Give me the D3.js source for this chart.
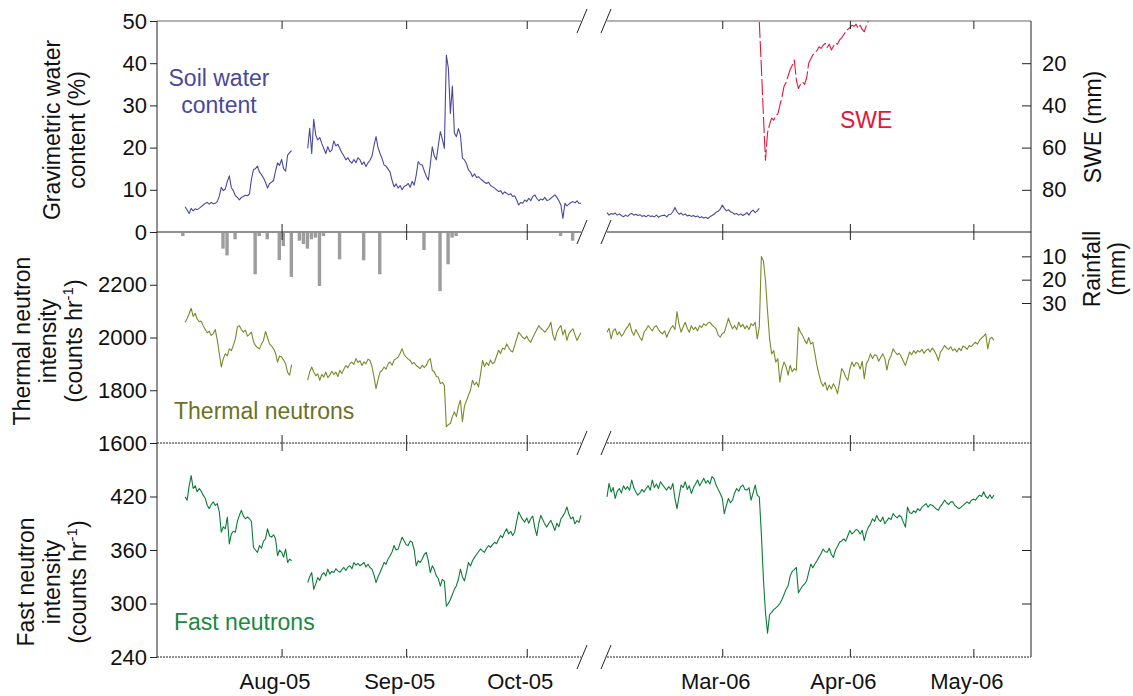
<!DOCTYPE html>
<html>
<head>
<meta charset="utf-8">
<script src="https://cdn.jsdelivr.net/npm/d3@7"></script>
<style>
  body { margin: 0; background: #fff; }
  svg { display: block; font-family: "Liberation Sans", Arial, sans-serif; }
</style>
</head>
<body>
<div id="chart"></div>
<script>
// ---- data (half-daily samples) ----
const sampleHours = 12;

// soil water content (%), summer 2005 (two runs with a gap) and winter 2006
const soilJulStart = "2005-07-08 00";
const soilJul = [6.0,5.2,4.4,5.6,5.0,5.5,5.3,5.6,6.0,6.4,6.8,7.0,6.6,7.0,6.7,6.8,7.2,8.5,10.6,9.8,10.2,12.0,13.3,10.5,9.8,8.6,8.2,7.6,8.2,8.4,8.7,8.6,9.0,12.5,14.8,15.0,15.6,14.2,13.6,12.8,11.8,10.4,11.5,11.8,12.2,14.5,16.4,15.8,17.2,15.0,14.4,18.2,18.8,19.3];
const soilAugStart = "2005-08-07 12";
const soilAug = [19.8,24.6,18.6,26.7,23.0,21.8,22.4,21.0,19.8,18.6,20.2,19.0,19.4,21.6,20.4,20.8,19.8,18.8,18.0,17.1,17.6,16.8,16.3,17.2,16.4,17.6,17.1,16.0,16.6,15.5,16.4,17.0,18.0,20.5,22.6,20.0,18.6,17.4,15.9,15.6,14.9,14.2,12.2,10.7,11.4,10.4,11.0,10.0,10.8,11.0,11.5,10.6,12.0,11.1,13.5,16.7,16.0,15.9,14.5,13.2,12.3,16.0,20.2,18.0,17.1,20.5,23.8,22.0,19.8,41.9,38.8,28.1,34.6,23.4,22.6,24.5,23.0,17.5,17.1,16.2,14.7,14.2,13.1,13.8,12.9,13.1,12.6,12.2,11.8,11.5,11.8,11.0,10.7,10.4,10.0,9.6,9.8,9.0,9.5,9.2,8.8,9.1,8.4,8.6,7.6,6.4,7.0,6.8,7.6,7.2,8.0,7.4,8.4,8.8,8.0,7.4,7.8,7.6,8.2,7.5,7.6,8.0,8.4,8.8,8.2,7.4,6.4,3.2,6.8,6.2,6.6,7.0,7.2,6.9,7.4,6.8,6.8];
const soilFebStart = "2006-02-01 00";
const soilFeb = [4.6,4.0,4.4,4.2,4.5,4.0,4.3,3.9,3.6,4.0,3.7,4.2,4.4,4.0,4.2,3.9,4.1,3.7,3.9,3.6,4.0,3.7,3.8,3.6,4.0,3.5,3.8,3.9,4.0,3.6,4.1,4.2,4.8,5.8,4.8,4.2,4.5,4.0,4.3,3.8,4.0,3.7,3.9,3.6,3.8,3.4,3.6,3.3,3.5,3.2,3.6,3.9,4.2,4.7,4.9,5.4,6.4,5.6,5.0,5.3,4.8,4.6,4.2,4.4,4.0,4.3,3.9,4.2,4.6,4.0,4.8,5.2,4.6,5.0,5.6];

// snow water equivalent (mm), spring 2006
const sweMarStart = "2006-03-10 00";
const sweMar = [0.5,22,45,66,53,49,46,47,45,44,40,36,31,29,26,23,21,18.5,28,32,30,29,30,27,20,18,16,15,14,12.2,13,11.5,10.6,12.5,11,13.7,12,10.5,11,9,8,6.5,5.1,4,3.2,2,2.5,1.5,3.5,2,4,5.1,2,0];

// daily rainfall (mm), 2005
const rainDays = ["2005-07-07","2005-07-17","2005-07-18","2005-07-20","2005-07-25","2005-07-26","2005-07-28","2005-07-31","2005-08-01","2005-08-03","2005-08-05","2005-08-06","2005-08-07","2005-08-08","2005-08-09","2005-08-10","2005-08-11","2005-08-15","2005-08-21","2005-08-25","2005-09-05","2005-09-09","2005-09-11","2005-09-12","2005-09-13","2005-10-09","2005-10-12"];
const rainMm = [1.3,6.7,9.6,2.7,17.7,1.3,2.7,11.6,5.6,18.8,3.3,4.7,6.7,2.7,2.0,22.7,1.3,11.3,11.7,17.7,7.3,24.9,13.4,2.0,1.3,1.3,3.3];

// thermal neutron intensity (counts/hr)
const thermalJulStart = "2005-07-08 00";
const thermalJul = [2058,2072,2090,2111,2080,2092,2070,2060,2062,2044,2030,2018,2024,2008,2015,2030,1990,1940,1888,1920,1938,1930,1957,1950,1970,1995,2040,2045,2030,2020,2028,2005,2012,2020,1985,1970,1962,1957,1975,1989,2023,2000,1975,1968,1957,1940,1907,1930,1926,1915,1900,1868,1857,1897];
const thermalAugStart = "2005-08-07 12";
const thermalAug = [1838,1870,1888,1869,1855,1862,1838,1860,1850,1869,1848,1857,1872,1860,1869,1852,1876,1863,1880,1894,1885,1900,1907,1898,1920,1905,1912,1894,1908,1900,1918,1913,1890,1850,1806,1840,1869,1875,1888,1880,1900,1907,1895,1915,1920,1926,1940,1957,1935,1926,1918,1913,1900,1905,1894,1888,1882,1895,1886,1894,1912,1920,1876,1870,1852,1850,1825,1830,1819,1662,1670,1674,1700,1718,1700,1740,1762,1681,1740,1760,1781,1800,1838,1820,1830,1813,1860,1913,1890,1905,1894,1915,1900,1907,1930,1951,1940,1960,1955,1976,1962,1950,1945,1970,1995,2020,2010,2000,1995,2005,1990,1982,2000,2015,2030,2045,2035,2028,2020,2030,2040,2058,2010,1989,2020,2035,2045,2010,2030,1989,2015,2025,2033,2010,1989,2005,2018];
const thermalFebStart = "2006-02-01 00";
const thermalFeb = [2020,2035,1995,2025,2033,2010,2022,2005,2014,2030,2040,2055,2025,2008,2030,2015,2000,1989,2020,2030,2045,2035,2025,2040,2045,2030,2020,2014,2025,2001,2020,2035,2045,2030,2098,2050,2020,2040,2058,2035,2020,2045,2030,2039,2025,2045,2038,2052,2045,2055,2058,2048,2040,2033,2010,2001,2015,2020,2045,2073,2050,2033,2045,2030,2058,2040,2050,2033,2045,2030,2052,2045,2058,1995,2040,2307,2290,2215,2100,1995,1938,1950,1907,1920,1831,1880,1907,1890,1857,1895,1870,1882,1876,2039,2020,2008,1990,1976,2000,1975,1982,1940,1894,1860,1831,1815,1830,1800,1820,1805,1825,1810,1787,1830,1882,1870,1850,1838,1880,1907,1890,1905,1901,1880,1910,1844,1900,1915,1938,1920,1935,1932,1910,1925,1938,1920,1876,1915,1930,1957,1945,1935,1940,1926,1910,1894,1920,1945,1935,1950,1940,1951,1945,1955,1940,1950,1957,1945,1960,1950,1935,1913,1945,1955,1970,1960,1955,1965,1950,1957,1945,1960,1950,1968,1963,1955,1970,1965,1975,1982,1975,1990,1998,2005,2014,1957,1995,2001,1989];

// fast neutron intensity (counts/hr)
const fastJulStart = "2005-07-08 00";
const fastJul = [419.6,415.9,432,443.4,429,432,425.3,429,426,421.5,418,410.2,406.4,411,414,410,412,402.7,380,386,383.8,397,366.8,378,381,380,392,398.9,404.5,398,395,397,395,392,363,360,357.4,365,362,370,372.5,383.8,376,374.4,377,372.5,353.6,360,357.4,352,361.1,346,349.8,348];
const fastAugStart = "2005-08-07 12";
const fastAug = [323.4,330,334.7,315.9,322,329,326,332,334.7,331,338.5,333,336,334.7,339,336.6,335,338,340.4,337,341,342.3,339,346,343,345,342.3,344,346,341,344,340.4,338.5,332,323.4,330,334.7,340,346,344,350,353.6,358,365,360,361,368,374.4,370,366,365,370,368.7,360,342.3,348,346,350,355,357.4,348,334.7,342.3,338,331,328,319.6,327,325,297,300,304.5,310,315.9,320,327.2,338.5,330,325.3,335,346,342,348,351.7,355,358,361.1,359,357.4,362,365,363,366,368.7,367,372,376.2,374,380,383.8,378,381,376.2,380,392,402.7,398,394,391.3,396,390,395,398,385,376.2,390,398.9,394,389,385.7,390,393.2,388,381.9,390,386,395,398,402,408.3,400,395,397,389.4,393,391,398.9];
const fastFebStart = "2006-02-01 00";
const fastFeb = [419.6,434.7,425,430,417.8,426,429,424,432,428,431,427,438.5,430,425,421.5,424,428,425,429,432,427,438.5,430,434,429,436.6,433,430,427.2,431,428,434.7,418,406.4,420,432.8,430,436.6,428,432,423.4,430,434,438.5,432,436,440.4,435,438,434,442.3,440,432.8,428,423.4,418,400.8,410,417.8,413,415.9,424,429,426,431,432.8,428,427.2,430,415.9,424,432.8,421.5,419.6,378.1,327.2,290,266.8,287.6,290,293.2,295,297,300,304.5,310,315.9,320,331,336,338,340.4,312,316,319.6,322,325.3,335,344.2,340,344.2,348,352,356,361.1,358,357.4,362,355,351.7,360,364,368.7,370,372.5,370,376,381.9,378,380,383,381.9,378,382,370.6,380,385.7,389,395,392,398.9,394,392,397,389.4,393,396,394,400.8,398,396,399,397,391,385.7,408.3,402,400.8,404,402,406.4,404,408,410,412.1,408,411,410.2,408,406,404.5,409,412,415.9,413,411,414,414,410,408,406.4,408,410,412.1,414,412,415.9,417,416,419,421.5,420,425.3,420,417.8,422,418,421.5];

// axis ticks
const monthTicks2005 = ["2005-08-01","2005-09-01","2005-10-01"];
const monthTicks2006 = ["2006-03-01","2006-04-01","2006-05-01"];
const soilTicks = [0,10,20,30,40,50];
const sweTicks = [20,40,60,80];
const rainTicks = [10,20,30];
const thermalTicks = [1600,1800,2000,2200];
const fastTicks = [240,300,360,420];

// ---- layout ----
const width = 1133, height = 696;
const left = 157, right = 1031;
const rowTop = 21, rowA = 232, rowB = 443, rowBottom = 657;

const colors = {
  soil: "#48489c", swe: "#e3173b", rain: "#9d9d9d",
  thermal: "#7b892b", thermalText: "#6a7227",
  fast: "#0d7b38", fastText: "#18893f", axis: "#222"
};

const parseHour = d3.timeParse("%Y-%m-%d %H");
const parseDay = d3.timeParse("%Y-%m-%d");
const fmtMonth = d3.timeFormat("%b-%y");
const fmtInt = d3.format("d");

function toPoints(start, values) {
  const t0 = parseHour(start);
  return values.map((v, i) => ({ date: d3.timeHour.offset(t0, i * sampleHours), v }));
}

// broken x axis: two segments with their own time scales
const segments = [
  {
    x: d3.scaleTime().domain([parseDay("2005-07-01"), parseDay("2005-10-15")]).range([left, 583]),
    span: [left, 581],
    ticks: monthTicks2005.map(parseDay)
  },
  {
    x: d3.scaleTime().domain([parseDay("2006-02-01"), parseDay("2006-05-15")]).range([607, right]),
    span: [607, right],
    ticks: monthTicks2006.map(parseDay)
  }
];

const ySoil = d3.scaleLinear().domain([0, 50]).range([rowA, rowTop]);
const ySwe = d3.scaleLinear().domain([0, 100]).range([rowTop, rowA]);
const yRain = d3.scaleLinear().domain([0, 30]).range([rowA + 1, rowA + 71]);
const yThermal = d3.scaleLinear().domain([1600, 2400]).range([rowB, rowA]);
const yFast = d3.scaleLinear().domain([240, 480]).range([rowBottom, rowB]);

const svg = d3.select("#chart").append("svg")
  .attr("width", width)
  .attr("height", height);

// rainfall bars hanging from the top of the thermal panel
const x05 = segments[0].x;
svg.append("g").selectAll("rect")
  .data(rainDays.map((d, i) => ({ date: parseDay(d), mm: rainMm[i] })))
  .join("rect")
  .attr("x", d => x05(d.date))
  .attr("width", d => x05(d3.timeDay.offset(d.date, 1)) - x05(d.date) - 0.6)
  .attr("y", yRain(0))
  .attr("height", d => yRain(d.mm) - yRain(0))
  .attr("fill", colors.rain);

// lines
function drawLine(seg, y, pts, color, dash) {
  const line = d3.line().x(d => seg.x(d.date)).y(d => y(d.v));
  svg.append("path")
    .datum(pts)
    .attr("fill", "none")
    .attr("stroke", color)
    .attr("stroke-width", 1.1)
    .attr("stroke-linejoin", "round")
    .attr("stroke-dasharray", dash || null)
    .attr("d", line);
}

const [s05, s06] = segments;
drawLine(s05, ySoil, toPoints(soilJulStart, soilJul), colors.soil);
drawLine(s05, ySoil, toPoints(soilAugStart, soilAug), colors.soil);
drawLine(s06, ySoil, toPoints(soilFebStart, soilFeb), colors.soil);
drawLine(s06, ySwe, toPoints(sweMarStart, sweMar), colors.swe, "16,3");
drawLine(s05, yThermal, toPoints(thermalJulStart, thermalJul), colors.thermal);
drawLine(s05, yThermal, toPoints(thermalAugStart, thermalAug), colors.thermal);
drawLine(s06, yThermal, toPoints(thermalFebStart, thermalFeb), colors.thermal);
drawLine(s05, yFast, toPoints(fastJulStart, fastJul), colors.fast);
drawLine(s05, yFast, toPoints(fastAugStart, fastAug), colors.fast);
drawLine(s06, yFast, toPoints(fastFebStart, fastFeb), colors.fast);

// frame: horizontal lines per segment, verticals at both ends
const frame = svg.append("g").attr("stroke", colors.axis).attr("stroke-width", 1);
[rowTop, rowA, rowB, rowBottom].forEach(yy => {
  segments.forEach(seg => {
    frame.append("line")
      .attr("x1", seg.span[0]).attr("x2", seg.span[1])
      .attr("y1", yy).attr("y2", yy)
      .attr("stroke", yy === rowTop ? "#666" : colors.axis)
      .attr("stroke-dasharray", (yy === rowB || yy === rowBottom) ? "2,1" : null);
  });
  // break marks
  [582, 606].forEach(cx => {
    frame.append("line")
      .attr("x1", cx - 5).attr("y1", yy + 12)
      .attr("x2", cx + 5).attr("y2", yy - 12);
  });
});
frame.append("line").attr("x1", left).attr("x2", left).attr("y1", rowTop).attr("y2", rowBottom);
frame.append("line").attr("x1", right).attr("x2", right).attr("y1", rowTop).attr("y2", rowBottom);

function styleAxis(g, size) {
  g.select(".domain").remove();
  g.selectAll("line").attr("stroke", colors.axis);
  g.selectAll("text").attr("fill", "#111").style("font-size", size + "px")
    .style("font-family", '"Liberation Sans", Arial, sans-serif');
}

// month ticks, inward on top and bottom of each panel
const panels = [[rowTop, rowA], [rowA, rowB], [rowB, rowBottom]];
segments.forEach(seg => {
  panels.forEach(([top, bottom]) => {
    svg.append("g").attr("transform", `translate(0,${top})`)
      .call(d3.axisBottom(seg.x).tickValues(seg.ticks).tickSize(8).tickFormat(""))
      .call(g => styleAxis(g, 22));
    svg.append("g").attr("transform", `translate(0,${bottom})`)
      .call(d3.axisTop(seg.x).tickValues(seg.ticks).tickSize(8).tickFormat(""))
      .call(g => styleAxis(g, 22));
  });
  // month labels under the bottom panel
  svg.append("g").attr("transform", `translate(0,${rowBottom})`)
    .call(d3.axisBottom(seg.x).tickValues(seg.ticks).tickSize(0).tickPadding(16).tickFormat(fmtMonth))
    .call(g => styleAxis(g, 22))
    .call(g => g.selectAll("text").attr("dx", -7));
});

// left axes
[[ySoil, soilTicks], [yThermal, thermalTicks], [yFast, fastTicks]].forEach(([y, ticks]) => {
  svg.append("g").attr("transform", `translate(${left},0)`)
    .call(d3.axisLeft(y).tickValues(ticks).tickSize(7).tickPadding(3).tickFormat(fmtInt))
    .call(g => styleAxis(g, 22));
});

// right axes (ticks inward, labels outside)
svg.append("g").attr("transform", `translate(${right},0)`)
  .call(d3.axisRight(ySwe).tickValues(sweTicks).tickSize(-9).tickPadding(11).tickFormat(fmtInt))
  .call(g => styleAxis(g, 22));
svg.append("g").attr("transform", `translate(${right},0)`)
  .call(d3.axisRight(yRain).tickValues(rainTicks).tickSize(-9).tickPadding(11).tickFormat(fmtInt))
  .call(g => styleAxis(g, 22));
svg.append("g").attr("transform", `translate(${right},0)`)
  .call(d3.axisRight(yFast).tickValues(fastTicks.slice(1)).tickSize(-9).tickFormat(""))
  .call(g => styleAxis(g, 22));

// rotated axis titles
function vTitle(x, cy, lines, dx) {
  const g = svg.append("g").attr("transform", `translate(${x},${cy}) rotate(-90)`);
  lines.forEach((ln, i) => {
    const t = g.append("text")
      .attr("x", 0).attr("y", i * dx)
      .attr("text-anchor", "middle")
      .style("font-size", "23px")
      .attr("fill", "#111");
    if (Array.isArray(ln)) {
      t.append("tspan").text(ln[0]);
      t.append("tspan").attr("dy", -9).style("font-size", "15px").text(ln[1]);
      t.append("tspan").attr("dy", 9).text(ln[2]);
    } else {
      t.text(ln);
    }
  });
}
vTitle(60, 130, ["Gravimetric water", "content (%)"], 25);
vTitle(30, 341, ["Thermal neutron", "intensity", ["(counts hr", "-1", ")"]], 26);
vTitle(34, 582, ["Fast neutron", "intensity", ["(counts hr", "-1", ")"]], 26);
vTitle(1101, 127, ["SWE (mm)"], 0);
vTitle(1100, 269, ["Rainfall", "(mm)"], 25);

// series labels
function label(x, y, txt, color, anchor) {
  svg.append("text")
    .attr("x", x).attr("y", y)
    .attr("text-anchor", anchor || "start")
    .attr("fill", color)
    .style("font-size", "23px")
    .text(txt);
}
label(219, 86, "Soil water", colors.soil, "middle");
label(219, 113, "content", colors.soil, "middle");
label(840, 128, "SWE", colors.swe);
label(174, 419, "Thermal neutrons", colors.thermalText);
label(174, 630, "Fast neutrons", colors.fastText);
</script>
</body>
</html>
